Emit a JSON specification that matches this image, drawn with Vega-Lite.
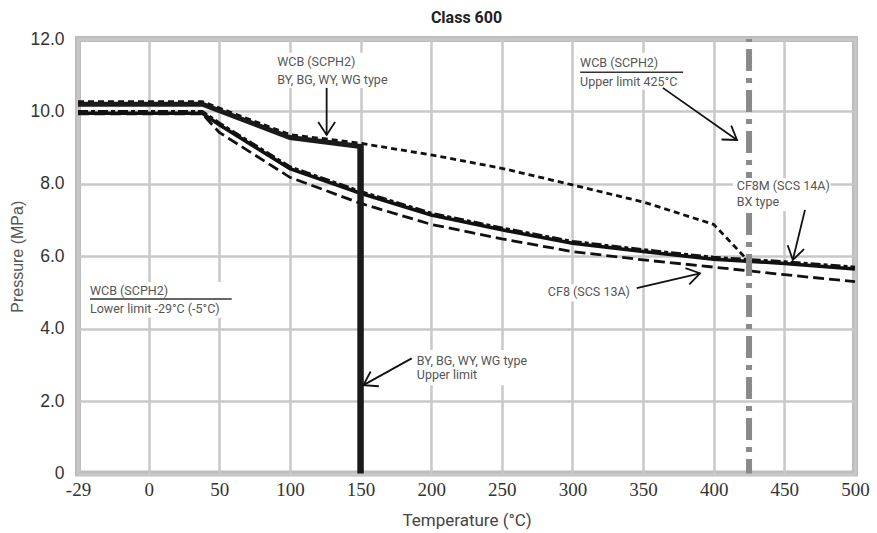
{
  "$schema": "https://vega.github.io/schema/vega-lite/v6.json",
  "width": 777,
  "height": 434.5,
  "autosize": "none",
  "padding": {"left": 78, "top": 39, "right": 22, "bottom": 59.5},
  "background": "white",
  "title": {"text": "Class 600", "font": "Roboto", "fontSize": 16, "fontWeight": "bold", "color": "#222", "offset": 4, "anchor": "middle"},
  "config": {
    "view": {"stroke": "#bdbdbd", "strokeWidth": 6},
    "axis": {"gridColor": "#c8c8c8", "gridWidth": 2.5, "gridOpacity": 1, "domain": false, "ticks": false, "labelFlush": false, "labelOverlap": false}
  },
  "datasets": {
    "wcbUpper": [
      {"t": -29, "p": 10.27}, {"t": 38, "p": 10.27}, {"t": 100, "p": 9.36}, {"t": 150, "p": 9.12},
      {"t": 200, "p": 8.8}, {"t": 250, "p": 8.43}, {"t": 300, "p": 7.97}, {"t": 350, "p": 7.5},
      {"t": 400, "p": 6.88}, {"t": 425, "p": 5.85}
    ],
    "wcb": [
      {"t": -29, "p": 10.2}, {"t": 38, "p": 10.2}, {"t": 100, "p": 9.28}, {"t": 150, "p": 9.03}
    ],
    "cf8m": [
      {"t": -29, "p": 9.95}, {"t": 38, "p": 9.95}, {"t": 50, "p": 9.63}, {"t": 100, "p": 8.42},
      {"t": 150, "p": 7.74}, {"t": 200, "p": 7.14}, {"t": 250, "p": 6.73}, {"t": 300, "p": 6.36},
      {"t": 350, "p": 6.13}, {"t": 400, "p": 5.92}, {"t": 450, "p": 5.8}, {"t": 500, "p": 5.65}
    ],
    "cf8": [
      {"t": -29, "p": 9.93}, {"t": 38, "p": 9.93}, {"t": 50, "p": 9.42}, {"t": 100, "p": 8.18},
      {"t": 150, "p": 7.46}, {"t": 200, "p": 6.88}, {"t": 250, "p": 6.48}, {"t": 300, "p": 6.13},
      {"t": 350, "p": 5.9}, {"t": 400, "p": 5.7}, {"t": 450, "p": 5.49}, {"t": 500, "p": 5.3}
    ],
    "wcbLimit": [{"t": 150, "p": 9.1, "p2": 0}],
    "upperLimit": [{"t": 425, "p": 12, "p2": 0}],
    "boxes": [
      {"t": 88.8, "t2": 174.4, "p": 11.62, "p2": 10.65},
      {"t": 302.6, "t2": 383.2, "p": 11.62, "p2": 10.6},
      {"t": 413.5, "t2": 482.7, "p": 8.16, "p2": 7.25},
      {"t": 281.4, "t2": 342.2, "p": 5.23, "p2": 4.76},
      {"t": -25.7, "t2": 61.9, "p": 5.29, "p2": 4.3},
      {"t": 187.1, "t2": 273.5, "p": 3.41, "p2": 2.44}
    ],
    "underlines": [
      {"t": 305.4, "t2": 378.3, "p": 11.08},
      {"t": -24.1, "t2": 58.8, "p": 4.82}
    ],
    "labelsLeft": [
      {"t": 91, "p": 11.37, "label": "WCB (SCPH2)"},
      {"t": 91, "p": 10.88, "label": "BY, BG, WY, WG type"},
      {"t": 305.4, "p": 11.33, "label": "WCB (SCPH2)"},
      {"t": 305.4, "p": 10.82, "label": "Upper limit 425°C"},
      {"t": 416.3, "p": 7.94, "label": "CF8M (SCS 14A)"},
      {"t": 416.3, "p": 7.5, "label": "BX type"},
      {"t": -24.1, "p": 5.05, "label": "WCB (SCPH2)"},
      {"t": -24.1, "p": 4.54, "label": "Lower limit -29°C (-5°C)"},
      {"t": 189.8, "p": 3.12, "label": "BY, BG, WY, WG type"},
      {"t": 189.8, "p": 2.72, "label": "Upper limit"}
    ],
    "labelsRight": [
      {"t": 340.7, "p": 5.0, "label": "CF8 (SCS 13A)"}
    ],
    "arrows": [
      {"t": 126, "p": 9.35, "t2": 126, "p2": 10.65, "angle": 180},
      {"t": 416.5, "p": 9.21, "t2": 364, "p2": 10.65, "angle": 125},
      {"t": 456, "p": 5.9, "t2": 464.6, "p2": 7.28, "angle": 193.5},
      {"t": 390.3, "p": 5.53, "t2": 345.5, "p2": 5.12, "angle": 76.7},
      {"t": 152, "p": 2.44, "t2": 186.2, "p2": 3.18, "angle": 241}
    ]
  },
  "encoding": {
    "x": {
      "field": "t", "type": "quantitative",
      "scale": {"domain": [-29, 0, 500], "range": [0, 70.64, 777], "nice": false, "zero": false},
      "axis": {
        "values": [-29, 0, 50, 100, 150, 200, 250, 300, 350, 400, 450, 500],
        "labelExpr": "'' + datum.value",
        "title": "Temperature (°C)", "grid": true,
        "labelFont": "Liberation Sans Narrow", "labelFontSize": 19, "labelColor": "#333", "labelPadding": 7,
        "titleFont": "Roboto", "titleFontSize": 17, "titleFontWeight": "normal", "titleColor": "#444", "titlePadding": 13
      }
    },
    "y": {
      "field": "p", "type": "quantitative",
      "scale": {"domain": [0, 12], "nice": false, "zero": false},
      "axis": {
        "values": [0, 2, 4, 6, 8, 10, 12],
        "labelExpr": "datum.value == 0 ? '0' : format(datum.value, '.1f')",
        "title": "Pressure (MPa)", "grid": true,
        "labelFont": "Liberation Sans", "labelFontSize": 17.5, "labelColor": "#333", "labelPadding": 14,
        "titleFont": "Liberation Sans", "titleFontSize": 16, "titleFontWeight": "normal", "titleColor": "#555", "titlePadding": 4
      }
    }
  },
  "layer": [
    {"data": {"name": "cf8"}, "mark": {"type": "line", "color": "#111", "strokeWidth": 2.8, "strokeDash": [11, 5]}},
    {"data": {"name": "cf8m"}, "mark": {"type": "line", "color": "#111", "strokeWidth": 3.5}},
    {"data": {"name": "cf8m"}, "mark": {"type": "line", "color": "#111", "strokeWidth": 3, "strokeDash": [10, 3, 4, 3], "yOffset": -1.8}},
    {"data": {"name": "wcbUpper"}, "mark": {"type": "line", "color": "#111", "strokeWidth": 2.8, "strokeDash": [6, 4]}},
    {"data": {"name": "wcb"}, "mark": {"type": "line", "color": "#1a1a1a", "strokeWidth": 5}},
    {"data": {"name": "wcbLimit"}, "mark": {"type": "rule", "color": "#1a1a1a", "strokeWidth": 6.5}, "encoding": {"y2": {"field": "p2"}}},
    {"data": {"name": "upperLimit"}, "mark": {"type": "rule", "color": "#8a8a8a", "strokeWidth": 6, "strokeDash": [22, 7, 5, 7], "strokeDashOffset": 31}, "encoding": {"y2": {"field": "p2"}}},
    {"data": {"name": "boxes"}, "mark": {"type": "rect", "color": "white", "opacity": 1}, "encoding": {"x2": {"field": "t2"}, "y2": {"field": "p2"}}},
    {"data": {"name": "underlines"}, "mark": {"type": "rule", "color": "#333", "strokeWidth": 1.5}, "encoding": {"x2": {"field": "t2"}}},
    {"data": {"name": "labelsLeft"}, "mark": {"type": "text", "font": "Roboto", "fontSize": 12.5, "color": "#555", "align": "left", "baseline": "middle"}, "encoding": {"text": {"field": "label"}}},
    {"data": {"name": "labelsRight"}, "mark": {"type": "text", "font": "Roboto", "fontSize": 12.5, "color": "#555", "align": "right", "baseline": "middle"}, "encoding": {"text": {"field": "label"}}},
    {"data": {"name": "arrows"}, "mark": {"type": "rule", "color": "#111", "strokeWidth": 1.8}, "encoding": {"x2": {"field": "t2"}, "y2": {"field": "p2"}}},
    {"data": {"name": "arrows"}, "mark": {"type": "point", "shape": "M-0.65,1L0,0L0.65,1", "size": 676, "filled": false, "color": "#111", "strokeWidth": 1.8, "opacity": 1}, "encoding": {"angle": {"field": "angle", "type": "quantitative", "scale": null}}}
  ]
}
